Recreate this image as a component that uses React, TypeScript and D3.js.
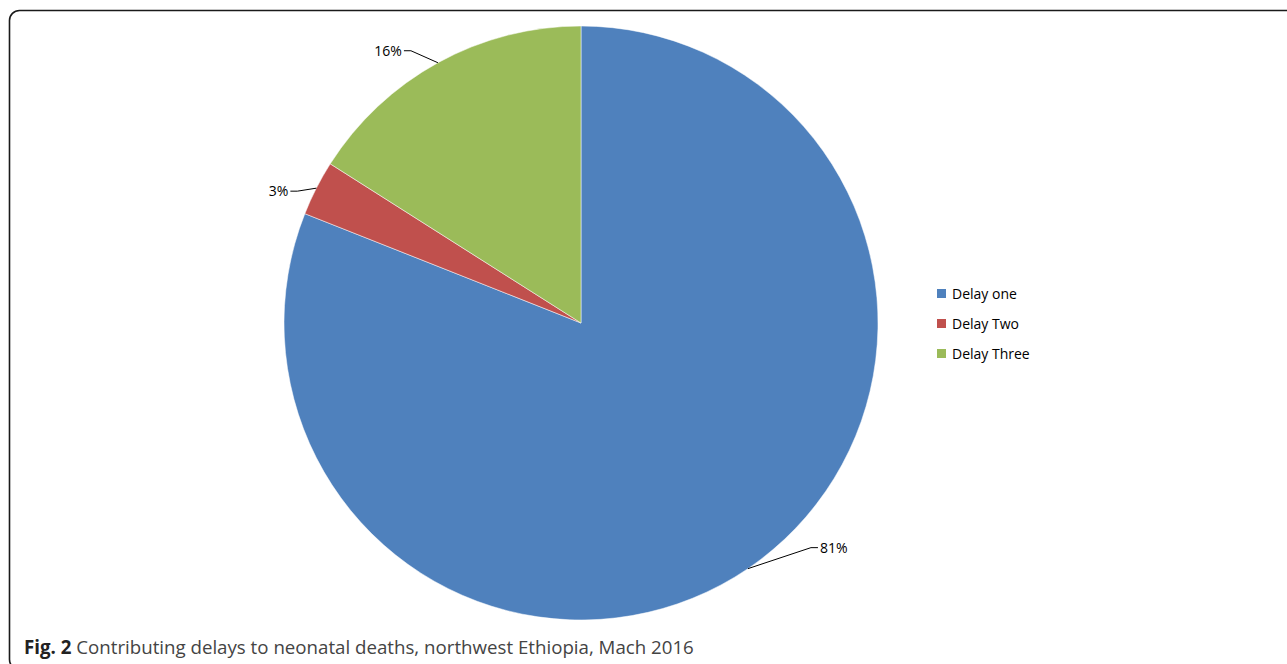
import React from "react";
import * as d3 from "d3";

const categories = ["Delay one", "Delay Two", "Delay Three"];
const values = [81, 3, 16];
const labels = ["81%", "3%", "16%"];
const colors = ["#4F81BD", "#C0504D", "#9BBB59"];
// label elbow offsets from arc edge (styling)
const labelOffsets: [number, number][] = [
  [63, -21],
  [-19, 3],
  [-27, -12],
];

const W = 1287;
const H = 664;
const cx = 581;
const cy = 323;
const R = 297;
const FONT = "'Open Sans', 'DejaVu Sans', sans-serif";

export default function App() {
  const pie = d3.pie<number>().sort(null).value((d) => d);
  const arcs = pie(values);
  const arc = d3.arc<d3.PieArcDatum<number>>().innerRadius(0).outerRadius(R);
  const edgeArc = d3.arc<d3.PieArcDatum<number>>().innerRadius(R).outerRadius(R);

  return (
    <svg
      width={W}
      height={H}
      style={{ position: "absolute", left: 0, top: 0, background: "#fff" }}
    >
      <rect x={9.5} y={10.5} width={W + 20} height={659} rx={10} ry={10} fill="none" stroke="#1a1a1a" strokeWidth={1.6} />
      <g transform={`translate(${cx},${cy})`}>
        {arcs.map((a, i) => (
          <path key={i} d={arc(a) || ""} fill={colors[i]} stroke="#fff" strokeWidth={0.5} />
        ))}
        {arcs.map((a, i) => {
          const [ex, ey] = edgeArc.centroid(a);
          const [dx, dy] = labelOffsets[i];
          const bx = ex + dx;
          const by = ey + dy;
          const right = dx > 0;
          const hx = bx + (right ? 7 : -7);
          return (
            <g key={"l" + i}>
              <polyline
                points={`${ex},${ey} ${bx},${by} ${hx},${by}`}
                fill="none"
                stroke="#000"
                strokeWidth={1}
              />
              <text
                x={hx + (right ? 2 : -2)}
                y={by + 5}
                textAnchor={right ? "start" : "end"}
                fontFamily={FONT}
                fontSize={14}
                fill="#000"
              >
                {labels[i]}
              </text>
            </g>
          );
        })}
      </g>
      <g transform="translate(937,289)">
        {categories.map((c, i) => (
          <g key={c} transform={`translate(0,${i * 30})`}>
            <rect x={0} y={0} width={9} height={9} fill={colors[i]} />
            <text x={15} y={9.5} fontFamily={FONT} fontSize={14} fill="#000">
              {c}
            </text>
          </g>
        ))}
      </g>
      <text x={24} y={654} fontFamily={FONT} fontSize={18.7} fill="#333">
        <tspan fontWeight="bold" fill="#222">Fig. 2</tspan>
        <tspan fill="#444"> Contributing delays to neonatal deaths, northwest Ethiopia, Mach 2016</tspan>
      </text>
    </svg>
  );
}
